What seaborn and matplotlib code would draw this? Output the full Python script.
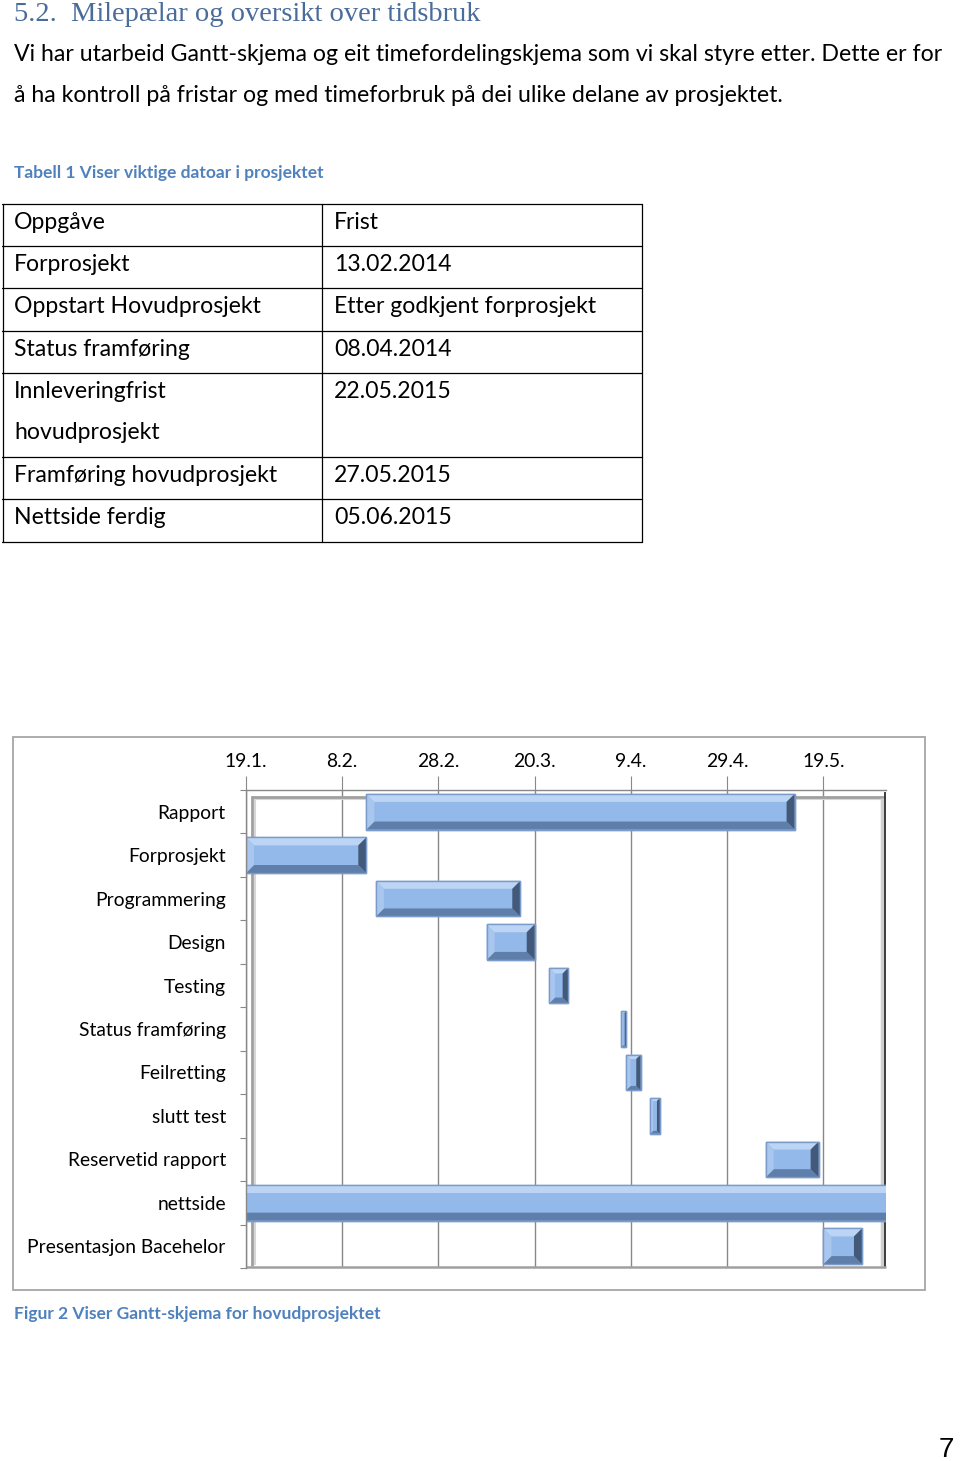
import numpy as np
import pandas as pd
import matplotlib
matplotlib.use("Agg")
import matplotlib.pyplot as plt
import matplotlib.dates as mdates
from matplotlib.patches import Rectangle, Polygon
from matplotlib.lines import Line2D
import seaborn as sns

# ---------------- data ----------------
heading = "5.2.  Milepælar og oversikt over tidsbruk"
body_lines = [
    "Vi har utarbeid Gantt-skjema og eit timefordelingskjema som vi skal styre etter. Dette er for",
    "å ha kontroll på fristar og med timeforbruk på dei ulike delane av prosjektet.",
]
table_caption = "Tabell 1 Viser viktige datoar i prosjektet"
table_tasks = ["Oppgåve", "Forprosjekt", "Oppstart Hovudprosjekt", "Status framføring",
               "Innleveringfrist\nhovudprosjekt", "Framføring hovudprosjekt", "Nettside ferdig"]
table_deadlines = ["Frist", "13.02.2014", "Etter godkjent forprosjekt", "08.04.2014",
                   "22.05.2015", "27.05.2015", "05.06.2015"]

tasks = ["Rapport", "Forprosjekt", "Programmering", "Design", "Testing",
         "Status framføring", "Feilretting", "slutt test", "Reservetid rapport",
         "nettside", "Presentasjon Bacehelor"]
starts = ["2015-02-13", "2015-01-19", "2015-02-15", "2015-03-10", "2015-03-23",
          "2015-04-07", "2015-04-08", "2015-04-13", "2015-05-07",
          "2015-01-12", "2015-05-19"]
durations = [89, 25, 30, 10, 4, 1, 3, 2, 11, 144, 8]

tick_dates = ["2015-01-19", "2015-02-08", "2015-02-28", "2015-03-20",
              "2015-04-09", "2015-04-29", "2015-05-19"]
tick_labels = ["19.1.", "8.2.", "28.2.", "20.3.", "9.4.", "29.4.", "19.5."]
x_range = ["2015-01-19", "2015-06-01"]

fig_caption = "Figur 2 Viser Gantt-skjema for hovudprosjektet"
page_number = "7"

# ---------------- styling ----------------
W, H, DPI = 960, 1461, 100
sns.set_theme(style="white")
plt.rcParams["font.family"] = ["Lato", "DejaVu Sans"]

BODY_FONT = ["Lato", "DejaVu Sans"]
HEAD_FONT = ["Liberation Serif", "DejaVu Serif"]
CAPTION_COLOR = "#4F81BD"
HEAD_COLOR = "#4A6C9B"
FACE = "#93B8EA"
TOP = "#BCD5F5"
LEFTC = "#A9C6EF"
BOTTOM = "#5F7FAA"
RIGHTC = "#43597A"
EDGE = "#7B9CCB"
GRID = "#888888"

fig = plt.figure(figsize=(W / DPI, H / DPI), dpi=DPI)
fig.patch.set_facecolor("white")
renderer = fig.canvas.get_renderer()


def fx(x):
    return x / W


def fy(y):
    return 1 - y / H


def text_w(s, size, **kw):
    t = fig.text(0, 0, s, fontsize=size, **kw)
    w = t.get_window_extent(renderer).width
    t.remove()
    return w


def fit(s, target, **kw):
    return 20 * target / text_w(s, 20, **kw)


def put(x, y, s, size, **kw):
    fig.text(fx(x), fy(y), s, fontsize=size, va="baseline", **kw)


def hline(x0, x1, y, **kw):
    fig.add_artist(Line2D([fx(x0), fx(x1)], [fy(y), fy(y)], transform=fig.transFigure, **kw))


def vline(x, y0, y1, **kw):
    fig.add_artist(Line2D([fx(x), fx(x)], [fy(y0), fy(y1)], transform=fig.transFigure, **kw))


# ---------------- page text ----------------
hs = fit(heading, 467, family=HEAD_FONT)
put(14, 21, heading, hs, family=HEAD_FONT, color=HEAD_COLOR)

bs = fit(body_lines[0], 929, family=BODY_FONT)
put(14, 61, body_lines[0], bs, family=BODY_FONT, color="black")
put(14, 102, body_lines[1], bs, family=BODY_FONT, color="black")

cs = fit(table_caption, 309, family=BODY_FONT, weight="bold")
put(14, 178, table_caption, cs, family=BODY_FONT, weight="bold", color=CAPTION_COLOR)

# ---------------- table ----------------
ts = fit("Framføring hovudprosjekt", 264, family=BODY_FONT)
row_h = 42.2
y = 204.0
tl = dict(color="black", lw=0.9)
hline(2, 642, y, **tl)
for task, dl in zip(table_tasks, table_deadlines):
    lines = task.split("\n")
    for k, ln in enumerate(lines):
        put(14, y + 25 + k * 41, ln, ts, family=BODY_FONT, color="black")
    put(334, y + 25, dl, ts, family=BODY_FONT, color="black")
    y += row_h * len(lines)
    hline(2, 642, y, **tl)
for xv in (2.5, 322, 641.5):
    vline(xv, 204, y, **tl)

# ---------------- Gantt chart ----------------
fig.add_artist(Rectangle((fx(13), fy(1290)), (925 - 13) / W, (1290 - 737) / H,
                         transform=fig.transFigure, fill=False, edgecolor="#A6A6A6", lw=1.3))

AX_L, AX_R, AX_T, AX_B = 246, 886, 790, 1268
ax = fig.add_axes([fx(AX_L), fy(AX_B), (AX_R - AX_L) / W, (AX_B - AX_T) / H])

df = pd.DataFrame({"task": tasks, "start": pd.to_datetime(starts), "days": durations})
df["left"] = mdates.date2num(df["start"])

sns.barplot(data=df, x="days", y="task", orient="y", left=df["left"].to_numpy(),
            width=0.82, color=FACE, edgecolor=EDGE, linewidth=1.0,
            errorbar=None, ax=ax, zorder=2, saturation=1)

ax.set_xlim(mdates.date2num(pd.to_datetime(x_range)))
ax.set_ylim(len(tasks) - 0.5, -0.5)
ax.set_xticks(mdates.date2num(pd.to_datetime(tick_dates)))
ax.set_xticklabels(tick_labels)
ax.xaxis.tick_top()
ax.set_xlabel("")
ax.set_ylabel("")
ax.grid(axis="x", color=GRID, lw=1.0)
ax.grid(axis="y", visible=False)
ax.set_axisbelow(True)
ax.set_facecolor("white")
for side in ("right", "bottom"):
    ax.spines[side].set_visible(False)
for side in ("left", "top"):
    ax.spines[side].set_color(GRID)
    ax.spines[side].set_linewidth(1.0)

ls = fit("Presentasjon Bacehelor", 199, family=BODY_FONT)
ax.tick_params(axis="x", which="major", direction="out", length=10, width=0.8,
               color=GRID, labelsize=ls, pad=4.5, top=True, bottom=False,
               labeltop=True, labelbottom=False)
ax.set_yticks(np.arange(-0.5, len(tasks)), minor=True)
ax.tick_params(axis="y", which="major", length=0, labelsize=ls, pad=14.5, left=True)
ax.tick_params(axis="y", which="minor", length=4.5, width=0.8, color=GRID, direction="out", left=True)
for lab in ax.get_xticklabels() + ax.get_yticklabels():
    lab.set_family(BODY_FONT)
    lab.set_color("black")
for lab in ax.get_yticklabels():
    lab.set_y(lab.get_position()[1])

# 3D-style wall frame (decoration)
def ax_pt(xp, yp):
    return ((xp - AX_L) / (AX_R - AX_L), (AX_B - yp) / (AX_B - AX_T))

def aline(p0, p1, color, lw, z=1.5):
    (x0, y0), (x1, y1) = ax_pt(*p0), ax_pt(*p1)
    ax.add_line(Line2D([x0, x1], [y0, y1], transform=ax.transAxes, color=color,
                       lw=lw, zorder=z, clip_on=False, solid_capstyle="butt"))

aline((252, 799), (883, 799), "#D6D6D6", 1.5)
aline((255, 799), (255, 1265), "#D6D6D6", 1.5)
aline((251, 796.5), (885, 796.5), "#A0A0A0", 2.0)
aline((252, 796), (252, 1266), "#A0A0A0", 2.0)
aline((881.5, 798), (881.5, 1266), "#CFCFCF", 2.5)
aline((885, 792), (885, 1268), "#2E2E2E", 1.3)
aline((246, 1267), (886, 1267), "#A0A0A0", 1.8)

# bevel decoration on every bar drawn by seaborn
inv = ax.transData.inverted()
bars = [p for p in ax.patches if isinstance(p, Rectangle) and p is not ax.patch]
for p in bars:
    x0, y0, w, h = p.get_x(), p.get_y(), p.get_width(), p.get_height()
    (px0, py0), (px1, py1) = ax.transData.transform([(x0, y0), (x0 + w, y0 + h)])
    L, R = sorted([px0, px1])
    B, T = sorted([py0, py1])
    b = min(8.0, (R - L) * 0.3, (T - B) * 0.3)

    def poly(pts, color, z=2.2):
        ax.add_patch(Polygon(inv.transform(pts), closed=True, facecolor=color,
                             edgecolor="none", zorder=z))

    poly([(L, T), (R, T), (R - b, T - b), (L + b, T - b)], TOP)
    poly([(L, B), (R, B), (R - b, B + b), (L + b, B + b)], BOTTOM)
    poly([(L, B), (L, T), (L + b, T - b), (L + b, B + b)], LEFTC)
    poly([(R, B), (R, T), (R - b, T - b), (R - b, B + b)], RIGHTC)
    ax.add_patch(Rectangle((x0, y0), w, h, facecolor="none", edgecolor=EDGE, lw=1.0, zorder=2.4))

fs = fit(fig_caption, 365, family=BODY_FONT, weight="bold")
put(14, 1319, fig_caption, fs, family=BODY_FONT, weight="bold", color=CAPTION_COLOR)

fig.text(fx(954), fy(1457), page_number, fontsize=20, family=["Liberation Sans", "DejaVu Sans"],
         ha="right", va="baseline", color="black")

fig.savefig("out.png", dpi=DPI, facecolor="white")
